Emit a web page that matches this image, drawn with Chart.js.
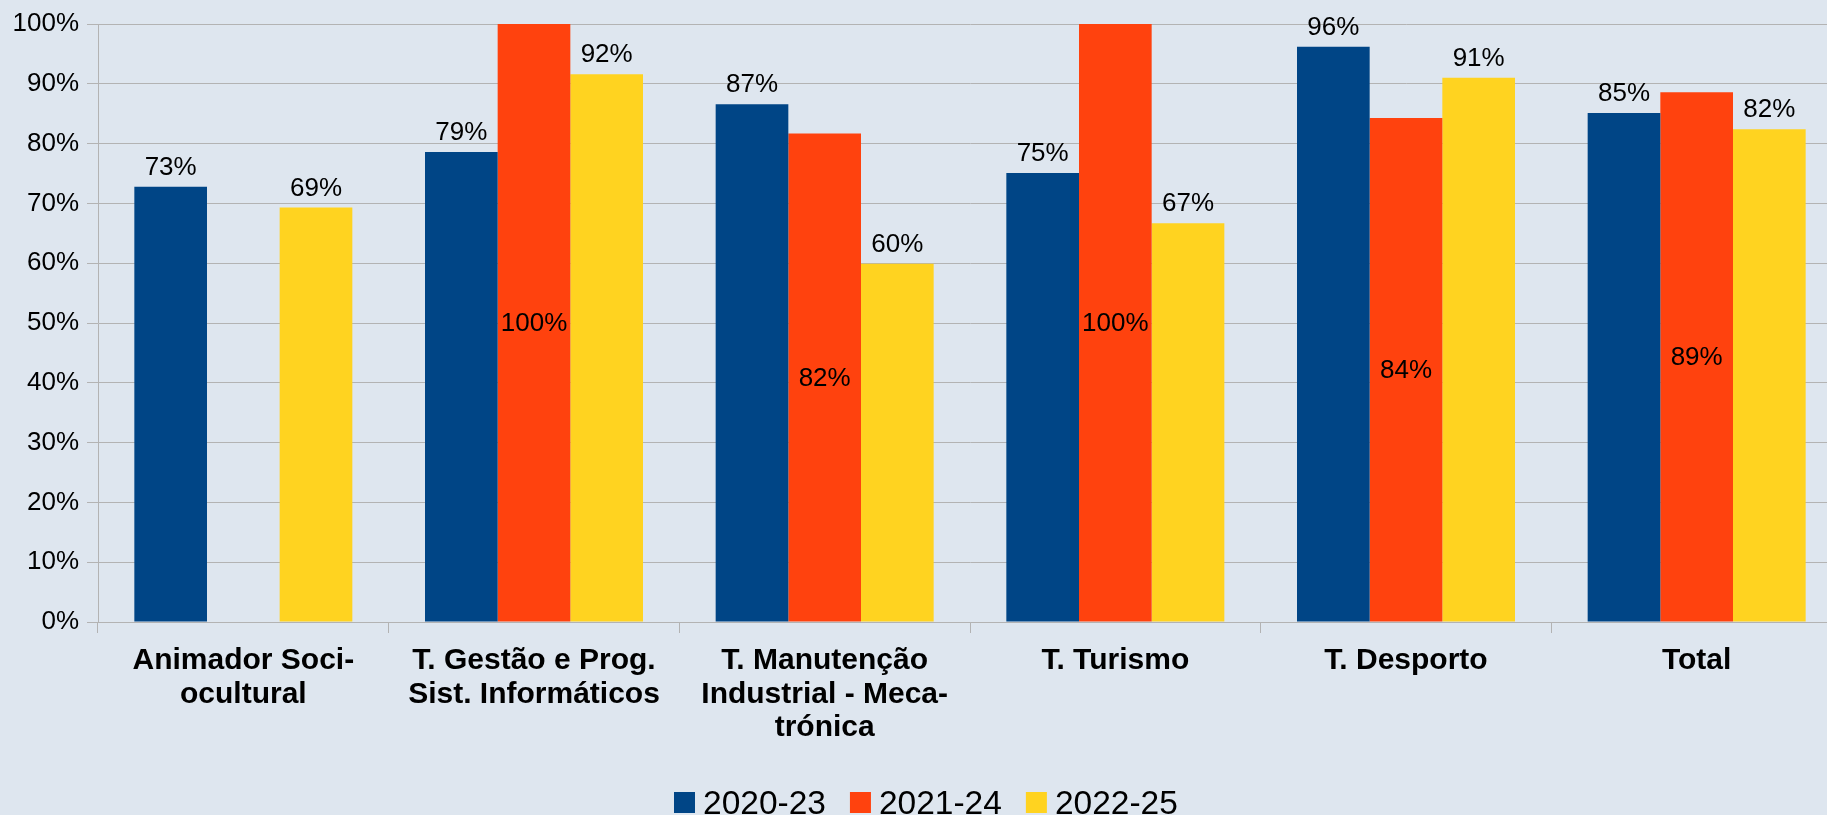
<!DOCTYPE html>
<html>
<head>
<meta charset="utf-8">
<script src="https://cdn.jsdelivr.net/npm/chart.js@4/dist/chart.umd.min.js"></script>
<style>
  html, body { margin: 0; padding: 0; background: #dee6ef; overflow: hidden; }
  #wrap { width: 1842px; height: 815px; }
</style>
</head>
<body>
<div id="wrap"><canvas id="mychart"></canvas></div>
<script>
const cursos = [
  ['Animador Soci-', 'ocultural'],
  ['T. Gestão e Prog.', 'Sist. Informáticos'],
  ['T. Manutenção', 'Industrial - Meca-', 'trónica'],
  'T. Turismo',
  'T. Desporto',
  'Total'
];
const anos = ['2020-23', '2021-24', '2022-25'];
const v2020 = [72.8, 78.6, 86.6, 75.1, 96.2, 85.1];
const v2021 = [null, 100, 81.7, 100, 84.3, 88.6];
const v2022 = [69.3, 91.6, 59.9, 66.7, 91.0, 82.4];
const cores = ['#004586', '#ff420e', '#ffd320'];
const yTicks = [0, 10, 20, 30, 40, 50, 60, 70, 80, 90, 100];

const fundo = {
  id: 'fundo',
  beforeDraw(chart) {
    const ctx = chart.ctx;
    ctx.save();
    ctx.fillStyle = '#dee6ef';
    ctx.fillRect(0, 0, chart.width, chart.height);
    ctx.restore();
  }
};

// rotulos: 2021-24 no centro da barra, os outros por cima
const rotulos = {
  id: 'rotulos',
  afterDatasetsDraw(chart) {
    const ctx = chart.ctx;
    ctx.save();
    ctx.font = '26px "Liberation Sans", Arial, sans-serif';
    ctx.fillStyle = '#000';
    ctx.textAlign = 'center';
    chart.data.datasets.forEach((ds, i) => {
      chart.getDatasetMeta(i).data.forEach((bar, j) => {
        const v = ds.data[j];
        if (v == null) return;
        const txt = Math.round(v) + '%';
        if (i === 1) {
          ctx.textBaseline = 'middle';
          ctx.fillText(txt, bar.x, (bar.y + bar.base) / 2 + 1);
        } else {
          ctx.textBaseline = 'alphabetic';
          ctx.fillText(txt, bar.x, bar.y - 12);
        }
      });
    });
    ctx.restore();
  }
};

const legenda = {
  id: 'legenda',
  afterDraw(chart) {
    const ctx = chart.ctx;
    ctx.save();
    ctx.font = '33.5px "Liberation Sans", Arial, sans-serif';
    ctx.textBaseline = 'alphabetic';
    ctx.textAlign = 'left';
    const box = 21, gap = 8, esp = 24;
    const larg = anos.map(a => box + gap + ctx.measureText(a).width);
    let x = 674;
    anos.forEach((a, i) => {
      ctx.fillStyle = cores[i];
      ctx.fillRect(x, 792, box, box);
      ctx.fillStyle = '#000';
      ctx.fillText(a, x + box + gap, 814);
      x += larg[i] + esp;
    });
    ctx.restore();
  }
};

const canvas = document.getElementById('mychart');
new Chart(canvas, {
  type: 'bar',
  data: {
    labels: cursos,
    datasets: [
      { label: anos[0], data: v2020, backgroundColor: cores[0] },
      { label: anos[1], data: v2021, backgroundColor: cores[1] },
      { label: anos[2], data: v2022, backgroundColor: cores[2] }
    ]
  },
  options: {
    responsive: true,
    maintainAspectRatio: false,
    animation: false,
    layout: { padding: { top: 24, left: 0, right: 0, bottom: 0 } },
    datasets: { bar: { categoryPercentage: 0.75, barPercentage: 1.0 } },
    plugins: {
      legend: { display: false },
      tooltip: { enabled: false }
    },
    scales: {
      x: {
        offset: true,
        grid: {
          offset: true,
          drawOnChartArea: false,
          drawTicks: true,
          tickLength: 11,
          color: '#b3b3b3'
        },
        border: { color: '#b3b3b3' },
        ticks: {
          color: '#000',
          padding: 11,
          maxRotation: 0,
          autoSkip: false,
          font: { family: '"Liberation Sans", Arial, sans-serif', size: 30, weight: 'bold', lineHeight: 1.12 }
        },
        afterFit(scale) { scale.height = 193; }
      },
      y: {
        min: 0,
        max: 100,
        afterBuildTicks(scale) { scale.ticks = yTicks.map(v => ({ value: v })); },
        grid: { color: '#b3b3b3', tickLength: 11 },
        border: { color: '#b3b3b3' },
        ticks: {
          color: '#000',
          padding: 8,
          font: { family: '"Liberation Sans", Arial, sans-serif', size: 26 },
          callback: v => v + '%'
        },
        afterFit(scale) { scale.width = 98; }
      }
    }
  },
  plugins: [fundo, rotulos, legenda]
});
</script>
</body>
</html>
